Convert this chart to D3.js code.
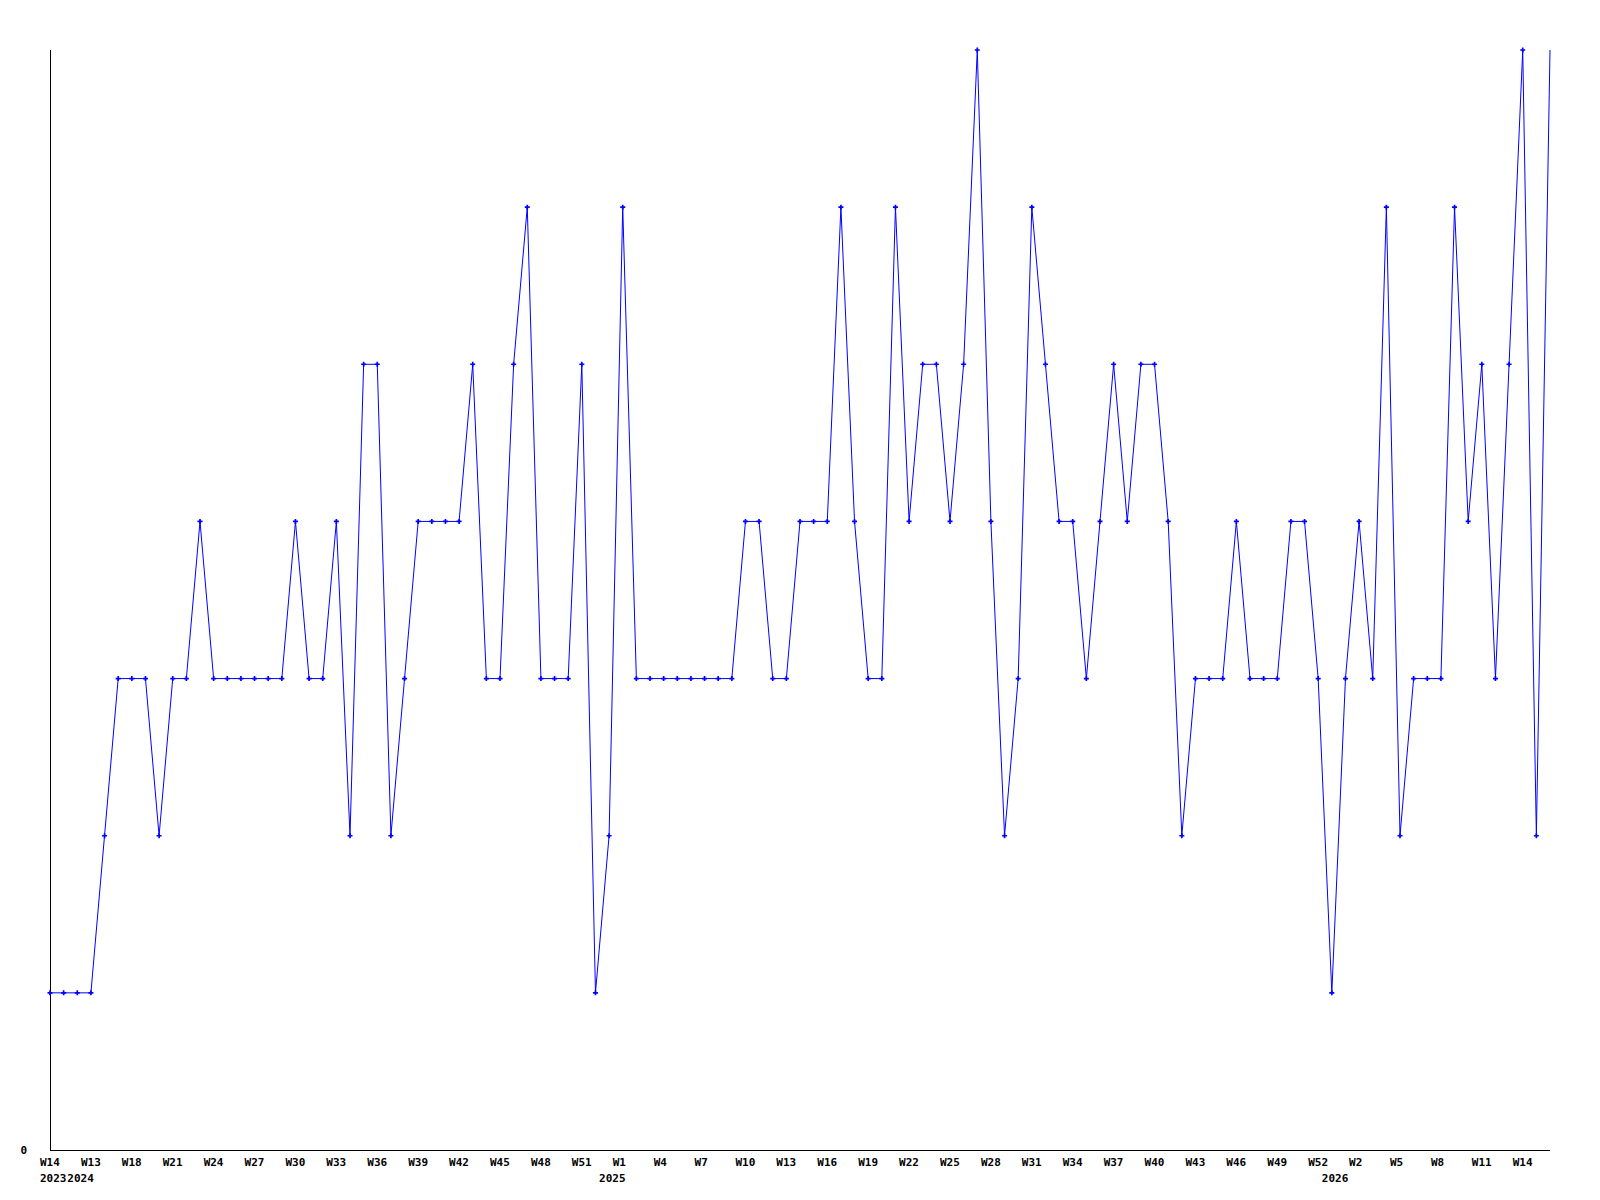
<html>
<head>
<meta charset="UTF-8" />
<style>
body { margin: 0; background: #fff; }
text { font-family: "DejaVu Sans Mono", monospace; font-weight: bold; font-size: 11px; fill: #000; }
</style>
</head>
<body>
<script src="https://d3js.org/d3.v7.min.js" charset="utf-8"></script>
<script>
var width = 1600;
var height = 1200;

// week label and year of every point (unlabelled ones are in between)
var weeks = ["W14","W15","W12","W13","W15","W17",
  "W18","W19","W20","W21","W22","W23","W24","W25","W26","W27","W28","W29","W30","W31","W32","W33","W34","W35",
  "W36","W37","W38","W39","W40","W41","W42","W43","W44","W45","W46","W47","W48","W49","W50","W51","W52",
  "W0","W1","W2","W3","W4","W5","W6","W7","W8","W9","W10","W11","W12","W13","W14","W15","W16","W17","W18",
  "W19","W20","W21","W22","W23","W24","W25","W26","W27","W28","W29","W30","W31","W32","W33","W34","W35",
  "W36","W37","W38","W39","W40","W41","W42","W43","W44","W45","W46","W47","W48","W49","W50","W51","W52",
  "W0","W1","W2","W3","W4","W5","W6","W7","W8","W9","W10","W11","W12","W13","W14","W15","W16"];
var years = [2023,2023,2024,2024,2024,2024].concat(d3.range(35).map(() => 2024), d3.range(53).map(() => 2025), d3.range(17).map(() => 2026));

var values = [1,1,1,1,2,3,3,3,2,3,3,4,3,3,3,3,3,3,4,3,3,4,2,5,5,2,3,4,4,4,4,5,3,3,5,6,3,3,3,5,
  1,2,6,3,3,3,3,3,3,3,3,4,4,3,3,4,4,4,6,4,3,3,6,4,5,5,4,5,7,4,2,3,6,5,4,4,3,4,5,4,
  5,5,4,2,3,3,3,4,3,3,3,4,4,3,1,3,4,3,6,2,3,3,3,6,4,5,3,5,7,2,7];

var yMax = 7;

var svg = d3.select("body")
			.append("svg")
			.attr("width",width)
			.attr("height",height);

var x = d3.scalePoint()
		  .domain(d3.range(values.length))
		  .range([50,1550]);

var y = d3.scaleLinear()
		  .domain([0,yMax])
		  .range([1150,50]);

//轴
svg.append("line")
   .attr("x1",50.5).attr("x2",50.5)
   .attr("y1",y(yMax)).attr("y2",y(0))
   .attr("stroke","#000").attr("stroke-width",1);

svg.append("line")
   .attr("x1",50).attr("x2",1550)
   .attr("y1",y(0)+0.5).attr("y2",y(0)+0.5)
   .attr("stroke","#000").attr("stroke-width",1);

svg.append("text")
   .attr("x",27).attr("y",y(0)+4)
   .attr("text-anchor","end")
   .text("0");

//x 标签，每三个点一个
svg.append("g")
   .selectAll("text")
   .data(d3.range(0,values.length,3))
   .enter()
   .append("text")
   .attr("x",i => x(i)-10)
   .attr("y",1166)
   .text(i => weeks[i]);

//年份
var yearStarts = d3.range(values.length).filter(i => i == 0 || years[i] != years[i-1]);
svg.append("g")
   .selectAll("text")
   .data(yearStarts)
   .enter()
   .append("text")
   .attr("x",i => x(i)-10)
   .attr("y",1182)
   .text(i => years[i]);

//折线
var line = d3.line()
			 .x((d,i) => x(i))
			 .y(d => y(d));

svg.append("path")
   .datum(values)
   .attr("fill","none")
   .attr("stroke","#0000ff")
   .attr("stroke-width",1)
   .attr("d",line);

//点（最后一个没有）
svg.append("g")
   .selectAll("path")
   .data(values.slice(0,values.length-1))
   .enter()
   .append("path")
   .attr("transform",(d,i) => "translate(" + x(i) + "," + y(d) + ")")
   .attr("d",d3.symbol().type(d3.symbolCross).size(14))
   .attr("fill","#0000ff");
</script>
</body>
</html>
